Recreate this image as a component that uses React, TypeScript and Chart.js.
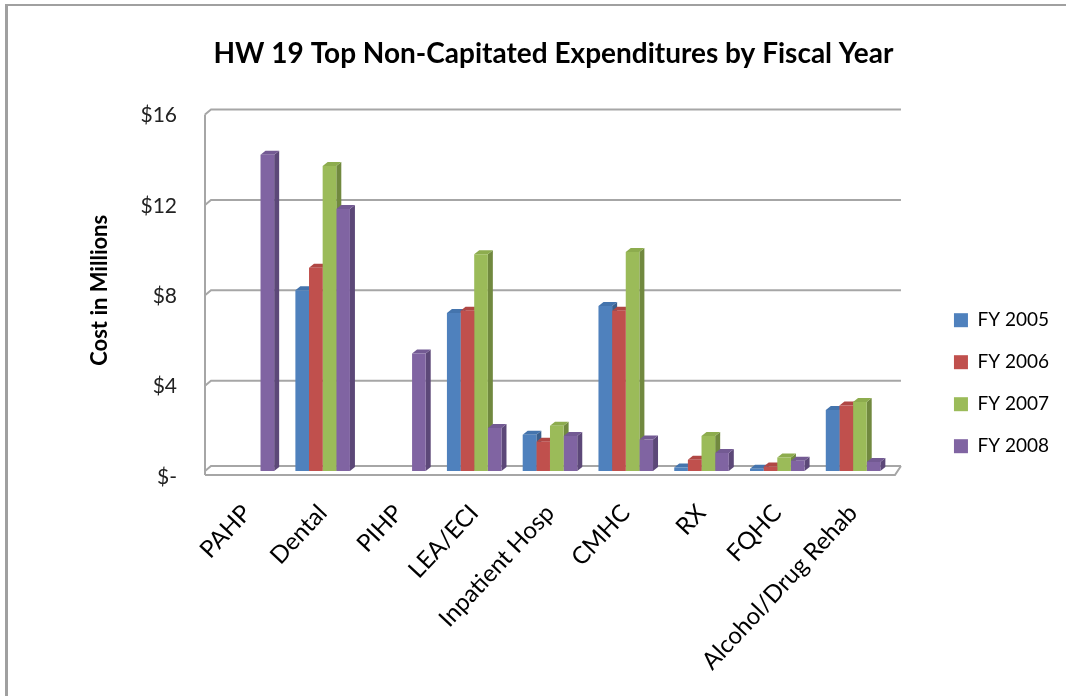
import React, { useEffect, useRef } from "react";
import { Chart, registerables } from "chart.js";

Chart.register(...registerables);

const TITLE = "HW 19 Top Non-Capitated Expenditures by Fiscal Year";
const Y_TITLE = "Cost in Millions";
const categories = ["PAHP", "Dental", "PIHP", "LEA/ECI", "Inpatient Hosp", "CMHC", "RX", "FQHC", "Alcohol/Drug Rehab"];
const seriesNames = ["FY 2005", "FY 2006", "FY 2007", "FY 2008"];
const fy2005 = [null, 8.0, null, 7.0, 1.6, 7.3, 0.15, 0.1, 2.7];
const fy2006 = [null, 9.0, null, 7.1, 1.3, 7.1, 0.5, 0.2, 2.9];
const fy2007 = [null, 13.5, null, 9.6, 2.0, 9.7, 1.55, 0.6, 3.05];
const fy2008 = [14.0, 11.6, 5.2, 1.9, 1.55, 1.4, 0.8, 0.45, 0.4];
const yTicks = [0, 4, 8, 12, 16];

const frontColors = ["#4F81BD", "#C0504D", "#9BBB59", "#8064A2"];
const sideColors = ["#3A5F8C", "#8E3A38", "#71893F", "#5C4878"];
const topColors = ["#4474AD", "#B04744", "#8DAC4E", "#735A93"];

const FONT = "Lato, 'Open Sans', sans-serif";
const DEPTH_X = 5;
const DEPTH_Y = 4;

const depthPlugin = {
  id: "depth3d",
  beforeDatasetsDraw(chart: any) {
    const { ctx, chartArea, scales } = chart;
    const y = scales.y;
    const L = chartArea.left;
    const R = chartArea.right;
    const p0 = y.getPixelForValue(0);
    ctx.save();
    ctx.strokeStyle = "#a6a6a6";
    ctx.lineWidth = 2;
    // back wall grid lines
    yTicks.forEach((v) => {
      const p = y.getPixelForValue(v);
      const py = v === 0 ? p - 5 : p;
      ctx.beginPath();
      ctx.moveTo(L - 4, py + 5);
      ctx.lineTo(L + 2, py);
      ctx.lineTo(R + 10, py);
      ctx.stroke();
    });
    // y axis line
    ctx.beginPath();
    ctx.moveTo(L - 4, y.getPixelForValue(16) + 5);
    ctx.lineTo(L - 4, p0 + 4);
    ctx.stroke();
    // floor front line and right edge
    ctx.beginPath();
    ctx.moveTo(L - 4, p0 + 4);
    ctx.lineTo(R + 4, p0 + 4);
    ctx.lineTo(R + 10, p0 - 5);
    ctx.stroke();
    // side and top faces of bars
    chart.data.datasets.forEach((ds: any, di: number) => {
      const meta = chart.getDatasetMeta(di);
      meta.data.forEach((bar: any, i: number) => {
        if (ds.data[i] == null) return;
        const w = bar.width;
        const xl = bar.x - w / 2;
        const xr = bar.x + w / 2;
        const top = bar.y;
        const base = bar.base;
        ctx.fillStyle = sideColors[di];
        ctx.beginPath();
        ctx.moveTo(xr, top);
        ctx.lineTo(xr + DEPTH_X, top - DEPTH_Y);
        ctx.lineTo(xr + DEPTH_X, base - DEPTH_Y);
        ctx.lineTo(xr, base);
        ctx.closePath();
        ctx.fill();
        ctx.fillStyle = topColors[di];
        ctx.beginPath();
        ctx.moveTo(xl, top);
        ctx.lineTo(xl + DEPTH_X, top - DEPTH_Y);
        ctx.lineTo(xr + DEPTH_X, top - DEPTH_Y);
        ctx.lineTo(xr, top);
        ctx.closePath();
        ctx.fill();
      });
    });
    ctx.restore();
  },
};

export default function App() {
  const ref = useRef<HTMLCanvasElement>(null);
  useEffect(() => {
    const seriesData = [fy2005, fy2006, fy2007, fy2008];
    const chart = new Chart(ref.current as HTMLCanvasElement, {
      type: "bar",
      data: {
        labels: categories,
        datasets: seriesNames.map((name, i) => ({
          label: name,
          data: seriesData[i],
          backgroundColor: frontColors[i],
          borderWidth: 0,
          barPercentage: 1,
          categoryPercentage: 0.72,
        })),
      },
      options: {
        responsive: false,
        animation: false,
        layout: { padding: { left: 48, right: 7, top: 0, bottom: 0 } },
        plugins: {
          title: {
            display: true,
            text: TITLE,
            color: "#000",
            font: { family: FONT, size: 28, weight: "bold" },
            padding: { top: 37, bottom: 39 },
          },
          legend: {
            position: "right",
            title: {
              display: true,
              text: " ",
              font: { family: FONT, size: 12 },
              padding: { top: 0, bottom: 56 },
            },
            labels: {
              color: "#000",
              boxWidth: 14,
              boxHeight: 14,
              padding: 23,
              font: { family: FONT, size: 19 },
            },
          },
          tooltip: { enabled: false },
        },
        scales: {
          x: {
            grid: { display: false, drawTicks: false },
            border: { display: false },
            ticks: {
              color: "#000",
              font: { family: FONT, size: 24 },
              minRotation: 47,
              maxRotation: 47,
              padding: 28,
              autoSkip: false,
            },
            afterFit: (s: any) => {
              s.height = 225;
            },
          },
          y: {
            min: 0,
            max: 16,
            grid: { display: false, drawTicks: false },
            border: { display: false },
            ticks: {
              stepSize: 4,
              color: "#222",
              padding: 32,
              labelOffset: 6,
              font: { family: FONT, size: 21 },
              callback: (v: any) => (v === 0 ? "$-" : "$" + v),
            },
            title: {
              display: true,
              text: Y_TITLE,
              color: "#000",
              padding: { top: 39, bottom: 0 },
              font: { family: FONT, size: 22, weight: "bold" },
            },
            afterFit: (s: any) => {
              s.width = 161;
            },
          },
          y2: {
            position: "right",
            display: true,
            grid: { display: false, drawTicks: false },
            border: { display: false },
            ticks: { display: false },
            afterFit: (s: any) => {
              s.width = 40;
            },
          },
        },
      },
      plugins: [depthPlugin],
    });
    return () => chart.destroy();
  }, []);
  return (
    <div style={{ position: "fixed", left: 0, top: 0, width: 1066, height: 696, background: "#fff", overflow: "hidden" }}>
      <div style={{ position: "absolute", left: 5, top: 4, width: 3, height: 692, background: "#a0a0a0" }} />
      <div style={{ position: "absolute", left: 5, top: 4, width: 1061, height: 2, background: "#a0a0a0" }} />
      <canvas ref={ref} width={1066} height={696} style={{ position: "absolute", left: 0, top: 0, display: "block" }} />
    </div>
  );
}
